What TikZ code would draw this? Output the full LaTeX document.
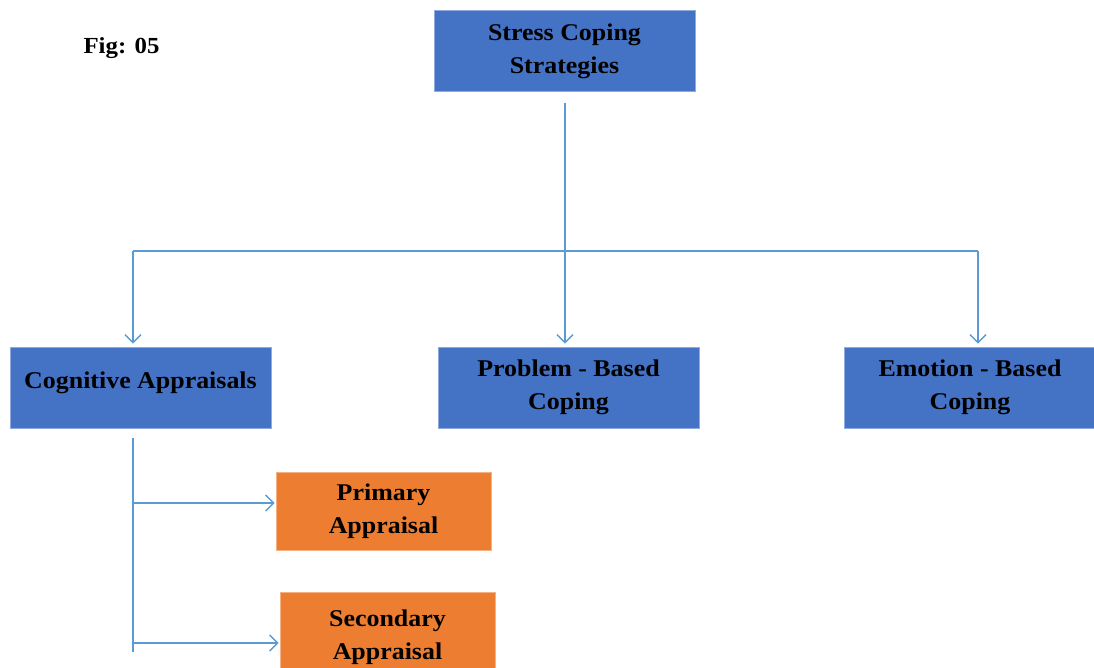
\documentclass[tikz,border=0pt]{standalone}
\usepackage{fontspec}
\setmainfont[FakeStretch=1.08]{Liberation Serif}
\usetikzlibrary{arrows.meta,calc}
\definecolor{boxblue}{HTML}{4472C4}
\definecolor{boxorange}{HTML}{ED7D31}
\definecolor{linkblue}{HTML}{5B9BD5}
\begin{document}
\begin{tikzpicture}[x=1pt,y=1pt,
  bluebox/.style={rectangle,fill=boxblue,draw=boxblue!60!white,line width=0.6pt,minimum width=261pt,minimum height=81pt,inner sep=0pt,align=center,font=\fontsize{24}{33}\selectfont\bfseries},
  orangebox/.style={rectangle,fill=boxorange,draw=boxorange!60!white,line width=0.6pt,minimum width=215pt,minimum height=78pt,inner sep=0pt,align=center,font=\fontsize{24}{33}\selectfont\bfseries},
  conn/.style={draw=linkblue,line width=1.4pt},
  arr/.style={conn,-{Straight Barb[length=8pt,width=16pt,line width=1.4pt]}}]
\useasboundingbox (0,0) rectangle (1094,-667);
\node[font=\fontsize{23}{27}\selectfont\bfseries] (fig) at (121.5,-48) {Fig: 05};
\node[bluebox] (top) at (564.5,-51) {Stress Coping\\Strategies};
\node[bluebox] (cog) at (140.5,-387.5) {Cognitive Appraisals\\[-19pt]\mbox{}};
\node[bluebox] (prob) at (568.5,-387.5) {Problem - Based\\Coping};
\node[bluebox,minimum width=252pt] (emo) at (970,-387.5) {Emotion - Based\\Coping};
\node[orangebox] (prim) at (383.5,-511) {Primary\\Appraisal};
\node[orangebox,minimum height=90pt] (sec) at (387.5,-637) {Secondary\\Appraisal\\[-28pt]\mbox{}};
\coordinate (a) at (565,-103);
\coordinate (cl) at (133,-251);
\coordinate (cr) at (978,-251);
\coordinate (d) at (133,-438);
\coordinate (e) at (133,-652);
\coordinate (p1) at (133,-503);
\coordinate (p2) at (133,-643);
\draw[arr,shorten >=3pt] (a) -- (a |- prob.north);
\draw[conn] (cl) -- (cr);
\draw[arr,shorten >=3pt] (cl) -- (cl |- cog.north);
\draw[arr,shorten >=3pt] (cr) -- (cr |- emo.north);
\draw[conn] (d) -- (e);
\draw[arr,shorten >=1pt] (p1) -- (p1 -| prim.west);
\draw[arr,shorten >=1pt] (p2) -- (p2 -| sec.west);
\end{tikzpicture}
\end{document}
